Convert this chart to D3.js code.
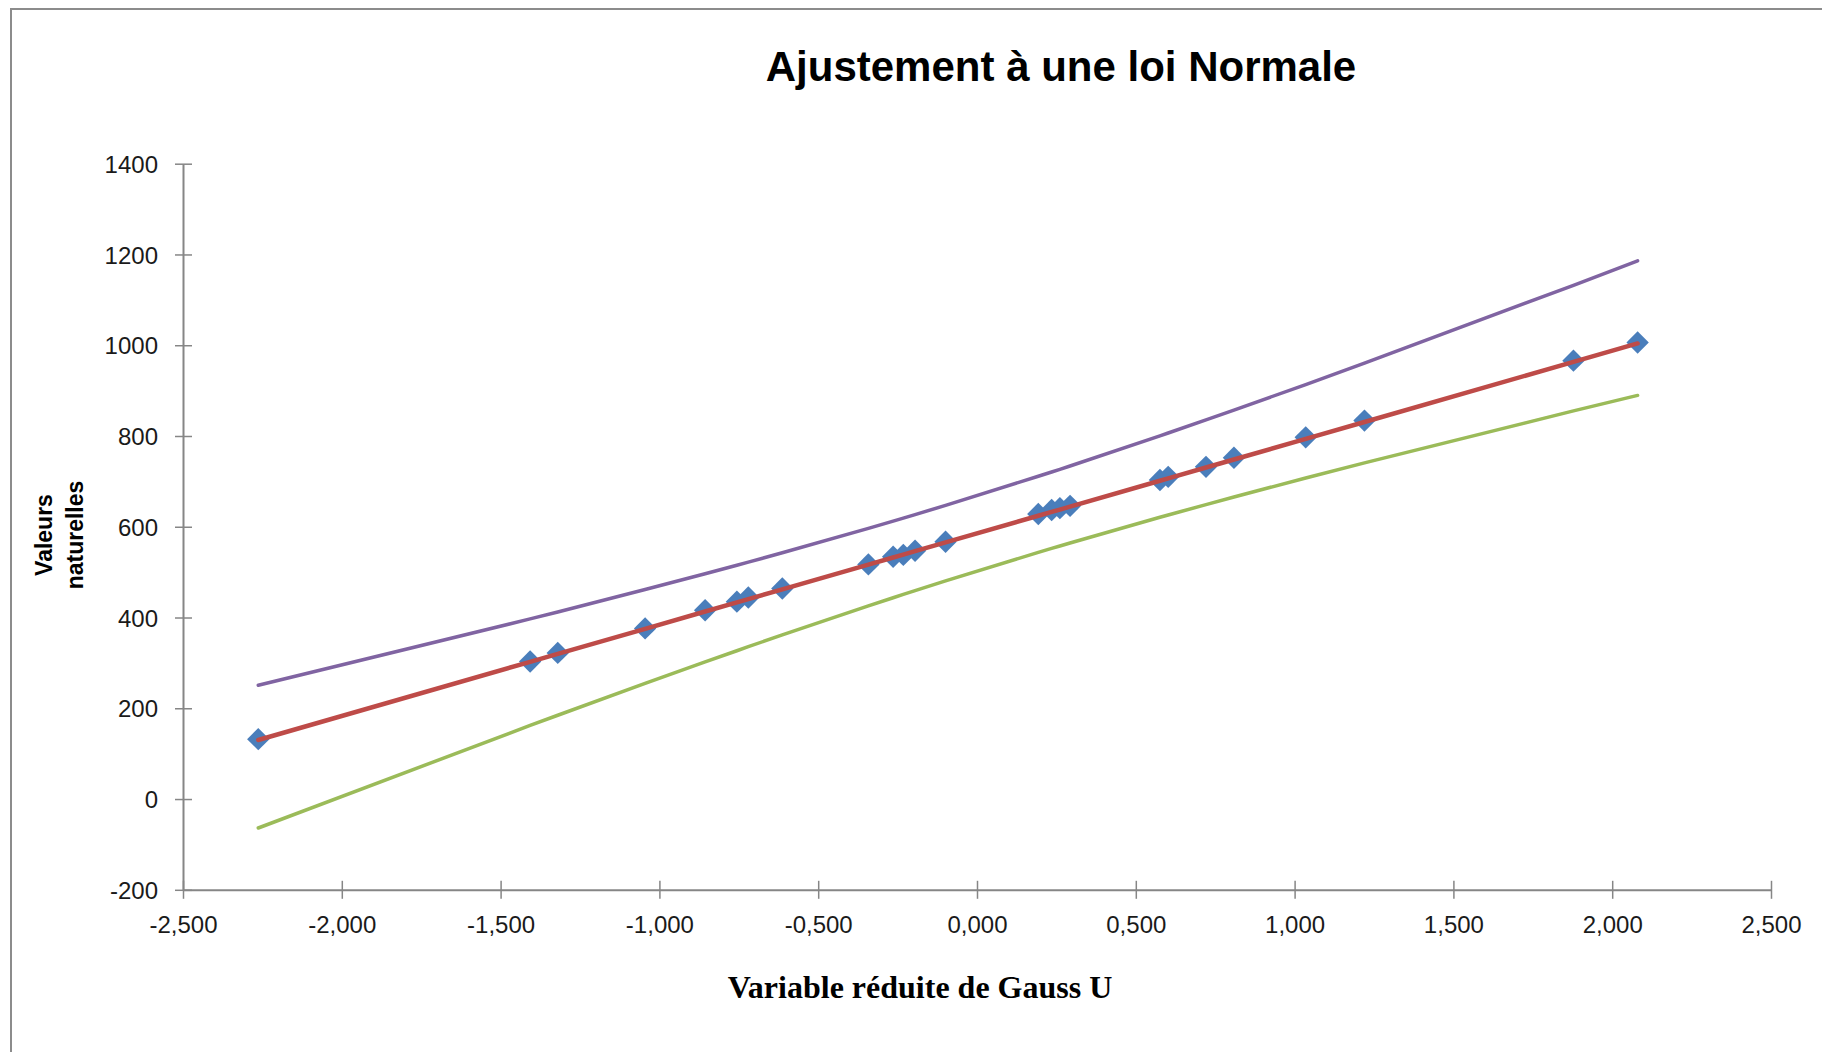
<!DOCTYPE html>
<html>
<head>
<meta charset="utf-8">
<script src="https://cdn.jsdelivr.net/npm/d3@7"></script>
<style>
  body { margin: 0; background: #fff; }
</style>
</head>
<body>
<script>
// variable réduite de Gauss for each sample
var uValues = [-2.263, -1.407, -1.320, -1.045, -0.856, -0.756, -0.720, -0.613, -0.342, -0.264,
  -0.232, -0.195, -0.099, 0.193, 0.235, 0.261, 0.293, 0.576, 0.602, 0.721,
  0.809, 1.035, 1.220, 1.878, 2.080];
// valeurs naturelles (blue diamonds)
var observed = [132, 303, 322, 376, 416, 435, 444, 464, 517, 534,
  538, 547, 567, 628, 637, 641, 646, 703, 710, 732,
  752, 797, 834, 966, 1006];
// fitted normal line (red)
var fitted = [130.1, 302.3, 319.8, 375.1, 413.2, 433.3, 440.5, 462.1, 516.6, 532.3,
  538.7, 546.2, 565.5, 624.2, 632.7, 637.9, 644.4, 701.3, 706.5, 730.5,
  748.2, 793.6, 830.9, 963.3, 1003.9];
// upper confidence limit (purple)
var upperBound = [250.6, 396.9, 412.2, 461.6, 496.5, 515.2, 522.1, 542.6, 596.4, 612.5,
  619.1, 626.8, 647.1, 711.2, 720.6, 726.5, 733.9, 800.3, 806.6, 835.4,
  857.0, 913.4, 960.5, 1132.1, 1185.8];
// lower confidence limit (green)
var lowerBound = [-63.8, 162.1, 184.6, 254.8, 302.1, 326.8, 335.7, 361.6, 425.6, 443.5,
  450.9, 459.2, 480.7, 543.6, 552.4, 557.7, 564.3, 620.9, 626.0, 648.8,
  665.6, 707.4, 740.7, 855.3, 889.4];

var xTicks = [-2.5, -2, -1.5, -1, -0.5, 0, 0.5, 1, 1.5, 2, 2.5];
var yTicks = [-200, 0, 200, 400, 600, 800, 1000, 1200, 1400];

var chartTitle = "Ajustement à une loi Normale";
var xTitle = "Variable réduite de Gauss U";
var yTitle = ["Valeurs", "naturelles"];

var width = 1822, height = 1052;
var axisColor = "#868686";

// french number format, plain hyphen for negatives
var fr = d3.formatLocale({ decimal: ",", thousands: " ", grouping: [3], currency: ["", " €"], minus: "-" });

var svg = d3.select("body")
  .append("svg")
  .attr("width", width)
  .attr("height", height);

// chart area border
svg.append("rect")
  .attr("x", 11)
  .attr("y", 9)
  .attr("width", 1900)
  .attr("height", 1200)
  .attr("fill", "#fff")
  .attr("stroke", "#8c8c8c")
  .attr("stroke-width", 2);

var x = d3.scaleLinear().domain([-2.5, 2.5]).range([183, 1771]);
var y = d3.scaleLinear().domain([-200, 1400]).range([889.8, 163.7]);

// Y axis
var yAxis = svg.append("g")
  .attr("transform", "translate(" + x(-2.5) + ",0)")
  .call(d3.axisLeft(y).tickValues(yTicks).tickSizeOuter(0).tickFormat(fr.format("d")));
yAxis.select(".domain").attr("stroke", axisColor).attr("stroke-width", 2);
yAxis.selectAll(".tick line").attr("stroke", axisColor).attr("stroke-width", 1.5)
  .attr("x1", 9).attr("x2", -8);
yAxis.selectAll(".tick text")
  .attr("x", -25)
  .attr("dy", "0.36em")
  .attr("fill", "#1a1a1a")
  .style("font-family", "'Liberation Sans', Arial, sans-serif")
  .style("font-size", "24px");

// X axis
var xAxis = svg.append("g")
  .attr("transform", "translate(0," + y(-200) + ")")
  .call(d3.axisBottom(x).tickValues(xTicks).tickSizeOuter(0).tickFormat(fr.format(".3f")));
xAxis.select(".domain").attr("stroke", axisColor).attr("stroke-width", 2);
xAxis.selectAll(".tick line").attr("stroke", axisColor).attr("stroke-width", 1.5)
  .attr("y1", -9).attr("y2", 9);
xAxis.selectAll(".tick text")
  .attr("y", 26)
  .attr("fill", "#1a1a1a")
  .style("font-family", "'Liberation Sans', Arial, sans-serif")
  .style("font-size", "24px");

// series
var pts = uValues.map(function (u, i) {
  return { u: u, obs: observed[i], fit: fitted[i], up: upperBound[i], low: lowerBound[i] };
});

function seriesLine(key) {
  return d3.line()
    .x(function (d) { return x(d.u); })
    .y(function (d) { return y(d[key]); });
}

// blue diamonds first, lines drawn on top like in the spreadsheet
svg.append("g")
  .selectAll("path")
  .data(pts)
  .enter()
  .append("path")
  .attr("d", d3.symbol().type(d3.symbolSquare).size(250))
  .attr("transform", function (d) {
    return "translate(" + x(d.u) + "," + y(d.obs) + ") rotate(45)";
  })
  .attr("fill", "#4a7ebb");

var lines = [
  { key: "fit", color: "#be4b48", w: 4.5 },
  { key: "up", color: "#8064a2", w: 3.5 },
  { key: "low", color: "#9bbb59", w: 3.5 }
];
lines.forEach(function (l) {
  svg.append("path")
    .datum(pts)
    .attr("d", seriesLine(l.key))
    .attr("fill", "none")
    .attr("stroke", l.color)
    .attr("stroke-width", l.w)
    .attr("stroke-linecap", "round")
    .attr("stroke-linejoin", "round");
});

// titles
svg.append("text")
  .attr("x", 1061)
  .attr("y", 81)
  .attr("text-anchor", "middle")
  .style("font-family", "'Liberation Sans', Arial, sans-serif")
  .style("font-weight", "bold")
  .style("font-size", "42px")
  .attr("fill", "#000")
  .text(chartTitle);

svg.append("text")
  .attr("x", 920)
  .attr("y", 998)
  .attr("text-anchor", "middle")
  .style("font-family", "'Liberation Serif', 'Times New Roman', serif")
  .style("font-weight", "bold")
  .style("font-size", "32px")
  .attr("fill", "#000")
  .text(xTitle);

var yLab = svg.append("text")
  .attr("transform", "translate(52,535) rotate(-90)")
  .attr("text-anchor", "middle")
  .style("font-family", "'Liberation Sans', Arial, sans-serif")
  .style("font-weight", "bold")
  .style("font-size", "23px")
  .attr("fill", "#000");
yLab.selectAll("tspan")
  .data(yTitle)
  .enter()
  .append("tspan")
  .attr("x", 0)
  .attr("dy", function (d, i) { return i === 0 ? 0 : 31; })
  .text(function (d) { return d; });
</script>
</body>
</html>
